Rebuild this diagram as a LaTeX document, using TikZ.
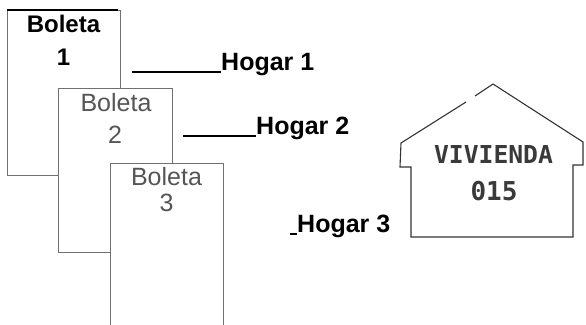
\documentclass[tikz,border=0pt]{standalone}
\usepackage{fontspec}
\setmainfont{Liberation Sans}
\newfontfamily\stencilfont{DejaVu Sans Mono}
\definecolor{boxline}{HTML}{707070}
\definecolor{boxtext}{HTML}{555555}
\definecolor{housetext}{HTML}{3A3A3A}
\definecolor{houseline}{HTML}{333333}
\begin{document}
\begin{tikzpicture}[x=1pt,y=-1pt,
  sheet/.style={draw=boxline,line width=0.9pt,fill=white},
  boldlbl/.style={font=\fontsize{24}{28}\selectfont\bfseries,anchor=base,inner sep=0pt},
  greylbl/.style={font=\fontsize{25}{29}\selectfont,text=boxtext,anchor=base,inner sep=0pt},
  hogar/.style={font=\fontsize{25}{29}\selectfont\bfseries,anchor=base west,inner sep=0pt},
  rule/.style={line width=1.8pt},
  housepath/.style={draw=houseline,line width=1.1pt},
  housetxt/.style={font=\stencilfont\bfseries,text=housetext,anchor=base,inner sep=0pt}]
\useasboundingbox (0,0) rectangle (586,324);
\clip (0,0) rectangle (586,324);

% sheets
\path[sheet] (7,10) rectangle (120,175);
\coordinate (t1a) at (7,10);
\coordinate (t1b) at (118,10);
\draw[line width=1.6pt] (t1a) -- (t1b);
\node[boldlbl] (bol1) at (63.5,32) {Boleta};
\node[boldlbl] (num1) at (63.5,65) {1};

\path[sheet] (58,88) rectangle (172,252);
\node[greylbl] (bol2) at (116,111) {Boleta};
\node[greylbl] (num2) at (115,143) {2};

\path[sheet] (110,163) rectangle (223,340);
\node[greylbl] (bol3) at (166.5,185) {Boleta};
\node[greylbl] (num3) at (166.5,211) {3};

% labels
\node[hogar] (h1) at (221,70) {Hogar 1};
\coordinate (u1) at (132,72);
\draw[rule] (u1) -- (h1.base west |- u1);

\node[hogar] (h2) at (256,134) {Hogar 2};
\coordinate (u2) at (183,136);
\draw[rule] (u2) -- (h2.base west |- u2);

\node[hogar] (h3) at (297,232) {Hogar 3};
\coordinate (u3) at (290,234);
\draw[rule] (u3) -- (h3.base west |- u3);

% house
\draw[housepath] (466,102) -- (401,143) -- (400,167) -- (411,167) -- (411,237)
  -- (573,237) -- (573,165) -- (583,165) -- (583,142) -- (493,84) -- (475,96);
\node[housetxt,font=\stencilfont\bfseries\fontsize{24.7}{28}\selectfont] (viv) at (493.5,163) {VIVIENDA};
\node[housetxt,font=\stencilfont\bfseries\fontsize{26}{30}\selectfont] (num) at (494,200) {015};
\end{tikzpicture}
\end{document}
